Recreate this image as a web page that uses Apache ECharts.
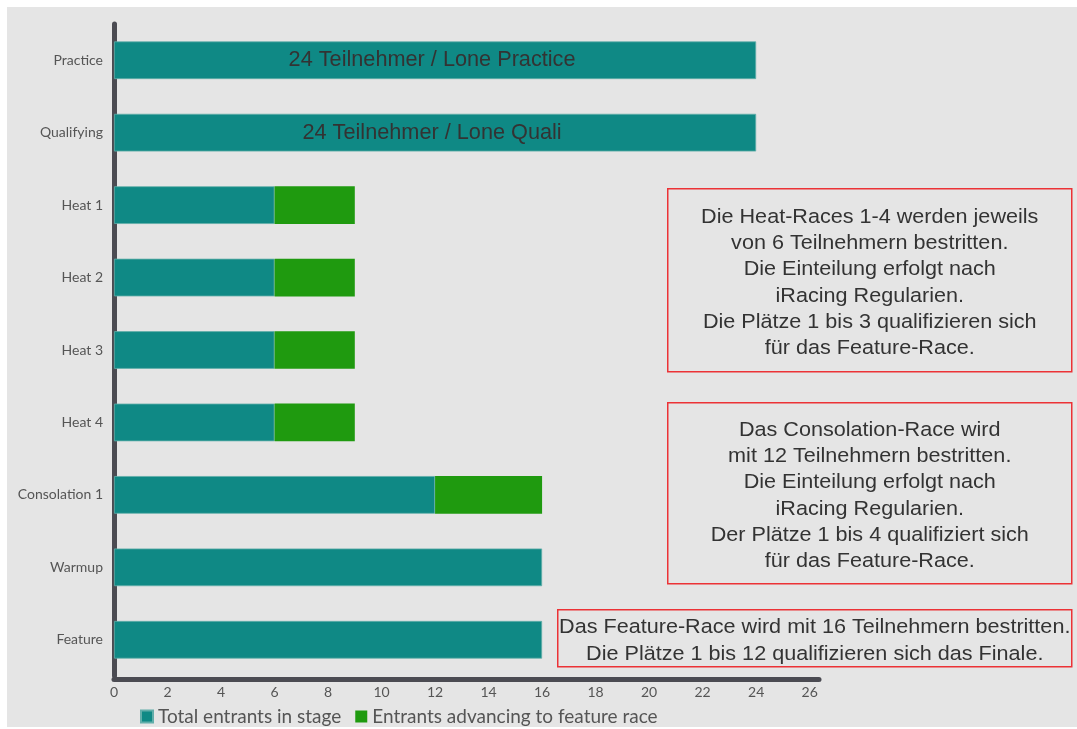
<!DOCTYPE html>
<html>
<head>
<meta charset="utf-8">
<script src="https://cdn.jsdelivr.net/npm/echarts@6/dist/echarts.min.js"></script>
<style>
  html, body { margin: 0; padding: 0; background: #ffffff; }
  #main { position: absolute; left: 7px; top: 7px; width: 1070px; height: 720px; background: #e5e5e5; }
</style>
</head>
<body>
<div id="main"></div>
<script>
// stages, top to bottom
var stages = ['Practice', 'Qualifying', 'Heat 1', 'Heat 2', 'Heat 3', 'Heat 4', 'Consolation 1', 'Warmup', 'Feature'];
var totalEntrants = [24, 24, 6, 6, 6, 6, 12, 16, 16];
var advancing = [null, null, 3, 3, 3, 3, 4, null, null];
var barNotes = ['24 Teilnehmer / Lone Practice', '24 Teilnehmer / Lone Quali', '', '', '', '', '', '', ''];

var heatNote = [
  'Die Heat-Races 1-4 werden jeweils',
  'von 6 Teilnehmern bestritten.',
  'Die Einteilung erfolgt nach',
  'iRacing Regularien.',
  'Die Plätze 1 bis 3 qualifizieren sich',
  'für das Feature-Race.'
];
var consolationNote = [
  'Das Consolation-Race wird',
  'mit 12 Teilnehmern bestritten.',
  'Die Einteilung erfolgt nach',
  'iRacing Regularien.',
  'Der Plätze 1 bis 4 qualifiziert sich',
  'für das Feature-Race.'
];
var featureNote = [
  'Das Feature-Race wird mit 16 Teilnehmern bestritten.',
  'Die Plätze 1 bis 12 qualifizieren sich das Finale.'
];

var ARIAL = '"Liberation Sans", Arial, sans-serif';

var chart = echarts.init(document.getElementById('main'));

// rahmen + text fuer die notizen rechts (text im original leicht breitgezogen)
function noteBox(x, y, w, h, lines) {
  return {
    type: 'group',
    left: x,
    top: y,
    children: [
      {
        type: 'rect',
        shape: { x: 0, y: 0, width: w, height: h },
        style: { fill: 'transparent', stroke: '#ec3236', lineWidth: 1.5 }
      },
      {
        type: 'text',
        x: w / 2,
        y: h / 2 + 3,
        scaleX: 1.12,
        style: {
          text: lines.join('\n'),
          fontFamily: ARIAL,
          fontSize: 19.3,
          lineHeight: 26.3,
          fill: '#333333',
          align: 'center',
          verticalAlign: 'middle'
        }
      }
    ]
  };
}

var option = {
  animation: false,
  grid: {
    left: 107,
    top: 17,
    right: 258,
    bottom: 51
  },
  legend: {
    left: 128,
    top: 695,
    itemWidth: 12,
    itemHeight: 12,
    itemGap: 14,
    icon: 'rect',
    textStyle: { fontFamily: 'Lato', fontSize: 19, color: '#555555' },
    data: ['Total entrants in stage', 'Entrants advancing to feature race']
  },
  xAxis: {
    type: 'value',
    min: 0,
    max: 26.35,
    interval: 2,
    offset: 3,
    splitLine: { show: false },
    axisTick: { show: false },
    axisLine: { show: true, lineStyle: { color: '#4b4b52', width: 5 } },
    axisLabel: {
      showMaxLabel: false,
      margin: 6,
      fontFamily: 'Lato',
      fontSize: 14,
      color: '#555555'
    }
  },
  yAxis: {
    type: 'category',
    inverse: true,
    data: stages,
    offset: 3,
    axisTick: { show: false },
    axisLine: { show: true, lineStyle: { color: '#4b4b52', width: 5 } },
    axisLabel: {
      margin: 8,
      fontFamily: 'Lato',
      fontSize: 14,
      color: '#555555'
    }
  },
  series: [
    {
      name: 'Total entrants in stage',
      type: 'bar',
      stack: 'all',
      barWidth: '52%',
      itemStyle: { color: '#0f8985', borderColor: '#62aeaa', borderWidth: 0.8 },
      label: {
        show: true,
        position: 'inside',
        offset: [-3, 0],
        fontFamily: ARIAL,
        fontSize: 21.7,
        color: '#333333',
        formatter: function (p) { return barNotes[p.dataIndex]; }
      },
      data: totalEntrants
    },
    {
      name: 'Entrants advancing to feature race',
      type: 'bar',
      stack: 'all',
      barWidth: '52%',
      itemStyle: { color: '#1f9a0f' },
      data: advancing
    }
  ],
  graphic: [
    noteBox(660, 181, 404, 183, heatNote),
    noteBox(660, 395, 404, 181, consolationNote),
    noteBox(550, 602, 514, 57, featureNote)
  ]
};

chart.setOption(option);
</script>
</body>
</html>
